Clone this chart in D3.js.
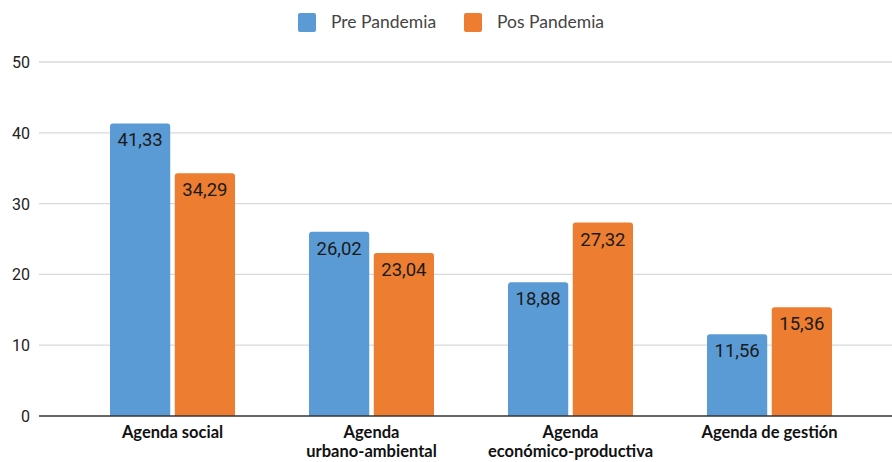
<!DOCTYPE html>
<html>
<head>
<meta charset="utf-8">
<script src="https://cdn.jsdelivr.net/npm/d3@7"></script>
<style>
  body { margin: 0; background: #fff; }
  svg { display: block; }
</style>
</head>
<body>
<div id="chart"></div>
<script>
// data
const categories = [
    ["Agenda social"],
    ["Agenda", "urbano-ambiental"],
    ["Agenda", "económico-productiva"],
    ["Agenda de gestión"]
];
const series = ["Pre Pandemia", "Pos Pandemia"];
const prePandemia = [41.33, 26.02, 18.88, 11.56];
const posPandemia = [34.29, 23.04, 27.32, 15.36];
const yTicks = [0, 10, 20, 30, 40, 50];

const colors = ["#5B9BD5", "#ED7D31"];

let width = 892,
    height = 462;

var margin = { top: 62, right: 0, bottom: 46, left: 39 };

var svg = d3.select("#chart")
    .append("svg")
    .attr("width", width)
    .attr("height", height);

var y = d3.scaleLinear()
    .domain([0, 50])
    .range([416, 62]);

var x = d3.scaleBand()
    .domain(d3.range(categories.length))
    .range([73, 869])
    .paddingInner(0);

var inner = d3.scaleBand()
    .domain(d3.range(series.length))
    .range([37, 162])
    .paddingInner(0.07);

// grid
svg.append("g")
    .selectAll("line")
    .data(yTicks.filter(t => t > 0))
    .enter()
    .append("line")
    .attr("x1", margin.left)
    .attr("x2", width)
    .attr("y1", d => y(d))
    .attr("y2", d => y(d))
    .style("stroke", "#d9d9d9")
    .style("stroke-width", 1.3);

// y labels
svg.append("g")
    .selectAll("text")
    .data(yTicks)
    .enter()
    .append("text")
    .attr("x", 30)
    .attr("y", d => y(d) + 6)
    .attr("text-anchor", "end")
    .style("font-family", "Roboto, sans-serif")
    .style("font-size", "16px")
    .style("fill", "#222")
    .text(d => d);

function barPath(x0, y0, w, h, r) {
    r = Math.min(r, h);
    return "M" + x0 + "," + (y0 + h) +
        "V" + (y0 + r) +
        "Q" + x0 + "," + y0 + " " + (x0 + r) + "," + y0 +
        "H" + (x0 + w - r) +
        "Q" + (x0 + w) + "," + y0 + " " + (x0 + w) + "," + (y0 + r) +
        "V" + (y0 + h) + "Z";
}

var values = [prePandemia, posPandemia];
var bars = [];
values.forEach((vals, s) => {
    vals.forEach((v, i) => bars.push({ s: s, i: i, v: v }));
});

var bw = inner.bandwidth();

svg.append("g")
    .selectAll("path")
    .data(bars)
    .enter()
    .append("path")
    .attr("d", d => barPath(x(d.i) + inner(d.s), y(d.v), bw, y(0) - y(d.v), 3))
    .style("fill", d => colors[d.s]);

svg.append("g")
    .selectAll("text")
    .data(bars)
    .enter()
    .append("text")
    .attr("x", d => x(d.i) + inner(d.s) + bw / 2)
    .attr("y", d => y(d.v) + 23)
    .attr("text-anchor", "middle")
    .style("font-family", "Roboto, sans-serif")
    .style("font-size", "18.5px")
    .style("fill", "#1a1a1a")
    .text(d => d.v.toFixed(2).replace(".", ","));

// axis line
svg.append("line")
    .attr("x1", margin.left)
    .attr("x2", width)
    .attr("y1", y(0))
    .attr("y2", y(0))
    .style("stroke", "#333")
    .style("stroke-width", 1.3);

// category labels, one text per line
var catLines = [];
categories.forEach((lines, i) => {
    lines.forEach((t, j) => catLines.push({ i: i, j: j, t: t }));
});

svg.append("g")
    .selectAll("text")
    .data(catLines)
    .enter()
    .append("text")
    .attr("text-anchor", "middle")
    .attr("x", d => x(d.i) + inner(0) + (inner(1) + bw - inner(0)) / 2)
    .attr("y", d => 438 + d.j * 19)
    .style("font-family", "Lato, 'Open Sans', sans-serif")
    .style("font-weight", "bold")
    .style("font-size", "16.5px")
    .style("fill", "#111")
    .text(d => d.t);

// legend
var legend = svg.append("g");
var legendX = [298, 464];
series.forEach((name, s) => {
    legend.append("rect")
        .attr("x", legendX[s])
        .attr("y", 13)
        .attr("width", 18)
        .attr("height", 19)
        .attr("rx", 2)
        .style("fill", colors[s]);
    legend.append("text")
        .attr("x", legendX[s] + 33)
        .attr("y", 28)
        .style("font-family", "Lato, 'Open Sans', sans-serif")
        .style("font-size", "17.5px")
        .style("fill", "#444")
        .text(name);
});
</script>
</body>
</html>
